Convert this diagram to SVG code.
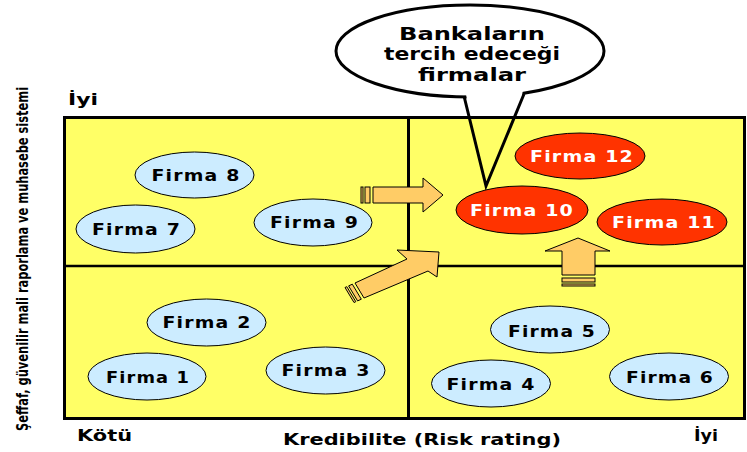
<svg xmlns="http://www.w3.org/2000/svg" width="747" height="452" viewBox="0 0 747 452">
<style>
.lbl{font-family:"DejaVu Sans","Liberation Sans",sans-serif;font-weight:bold;font-size:16px;letter-spacing:1px;text-anchor:middle}
.blue{fill:#CCECFF;stroke:#000;stroke-width:1}
.red{fill:#FF3300;stroke:#000;stroke-width:1}
.arr{fill:#FFCC66;stroke:#000;stroke-width:1;stroke-linejoin:miter}
.axis{font-family:"DejaVu Sans","Liberation Sans",sans-serif;font-weight:bold;font-size:15px}
.call{font-family:"DejaVu Sans","Liberation Sans",sans-serif;font-weight:bold;font-size:18px;text-anchor:middle}
</style>
<rect width="747" height="452" fill="#fff"/>
<g id="grid">
<rect x="64.5" y="117.5" width="680" height="301" fill="#FFFF66" stroke="#000" stroke-width="3"/>
<line x1="408.5" y1="117" x2="408.5" y2="419" stroke="#000" stroke-width="3"/>
<line x1="64" y1="266" x2="745" y2="266" stroke="#000" stroke-width="2.5"/>
</g>
<g id="firma8"><ellipse class="blue" cx="194.5" cy="175" rx="59.5" ry="23"/><text class="lbl" x="196" y="181" textLength="89" lengthAdjust="spacingAndGlyphs">Firma 8</text></g>
<g id="firma7"><ellipse class="blue" cx="135.5" cy="229" rx="59.5" ry="24"/><text class="lbl" x="136.5" y="235" textLength="89" lengthAdjust="spacingAndGlyphs">Firma 7</text></g>
<g id="firma9"><ellipse class="blue" cx="313" cy="222.5" rx="59" ry="23.5"/><text class="lbl" x="314.5" y="228" textLength="89" lengthAdjust="spacingAndGlyphs">Firma 9</text></g>
<g id="firma2"><ellipse class="blue" cx="206.5" cy="322.5" rx="59.5" ry="23.5"/><text class="lbl" x="207" y="328" textLength="89" lengthAdjust="spacingAndGlyphs">Firma 2</text></g>
<g id="firma1"><ellipse class="blue" cx="147" cy="376.5" rx="59" ry="23.5"/><text class="lbl" x="148" y="383" textLength="84" lengthAdjust="spacingAndGlyphs">Firma 1</text></g>
<g id="firma3"><ellipse class="blue" cx="325.5" cy="370.5" rx="59.5" ry="23.5"/><text class="lbl" x="326" y="376" textLength="89" lengthAdjust="spacingAndGlyphs">Firma 3</text></g>
<g id="firma5"><ellipse class="blue" cx="550" cy="329.5" rx="59.5" ry="23.5"/><text class="lbl" x="552" y="337" textLength="88" lengthAdjust="spacingAndGlyphs">Firma 5</text></g>
<g id="firma4"><ellipse class="blue" cx="491" cy="383.5" rx="59.5" ry="23.5"/><text class="lbl" x="491" y="390" textLength="89" lengthAdjust="spacingAndGlyphs">Firma 4</text></g>
<g id="firma6"><ellipse class="blue" cx="669" cy="376.5" rx="59.5" ry="23.5"/><text class="lbl" x="670" y="383" textLength="88" lengthAdjust="spacingAndGlyphs">Firma 6</text></g>
<g id="firma12"><ellipse class="red" cx="580" cy="156" rx="65" ry="23"/><text class="lbl" x="582" y="162" textLength="104" lengthAdjust="spacingAndGlyphs" fill="#fff">Firma 12</text></g>
<g id="firma10"><ellipse class="red" cx="522" cy="210" rx="66" ry="24"/><text class="lbl" x="522" y="216" textLength="104" lengthAdjust="spacingAndGlyphs" fill="#fff">Firma 10</text></g>
<g id="firma11"><ellipse class="red" cx="662" cy="222" rx="65" ry="23"/><text class="lbl" x="664" y="228" textLength="104" lengthAdjust="spacingAndGlyphs" fill="#fff">Firma 11</text></g>
<g id="connectors">
<g id="arrow-right">
<rect class="arr" x="361" y="187" width="2" height="16"/>
<rect class="arr" x="365" y="187" width="5" height="16"/>
<path class="arr" d="M373,187 H423 V178 L443,195 L423,212 V203 H373 Z"/>
</g>
<g id="arrow-diag">
<polygon class="arr" points="345,287.5 346.8,286.7 355.8,301.7 354,302.5"/>
<polygon class="arr" points="348.6,285.9 352.3,284.2 361.3,299.2 357.6,300.9"/>
<polygon class="arr" points="355,283 407,259 397,250 439,252 437,277 428,271 364,298"/>
</g>
<g id="arrow-up">
<rect class="arr" x="562" y="284" width="33" height="2"/>
<rect class="arr" x="562" y="278" width="33" height="4"/>
<path class="arr" d="M562,275 V251 H545 L578,238 L610,251 H595 V275 Z"/>
</g>
</g>
<g id="callout">
<ellipse cx="470" cy="51" rx="134" ry="46" fill="#fff" stroke="#000" stroke-width="3"/>
<polygon points="465,88 523,86 522,99 467,100" fill="#fff"/>
<polyline points="464,96 486,186 524,94" fill="none" stroke="#000" stroke-width="3" stroke-linejoin="miter"/>
<text class="call" x="472" y="40" textLength="146" lengthAdjust="spacingAndGlyphs">Bankaların</text>
<text class="call" x="472" y="60" textLength="176" lengthAdjust="spacingAndGlyphs">tercih edeceği</text>
<text class="call" x="472" y="81" textLength="108" lengthAdjust="spacingAndGlyphs">firmalar</text>
</g>
<g id="axes">
<text class="axis" x="68" y="105" textLength="30" lengthAdjust="spacingAndGlyphs">İyi</text>
<text class="axis" x="77" y="441" textLength="55" lengthAdjust="spacingAndGlyphs">Kötü</text>
<text class="axis" x="283" y="445" textLength="278" lengthAdjust="spacingAndGlyphs">Kredibilite (Risk rating)</text>
<text class="axis" x="694" y="441" textLength="24" lengthAdjust="spacingAndGlyphs">İyi</text>
<text class="axis" transform="translate(28,259) rotate(-90) scale(0.68,1)" text-anchor="middle" font-size="16" textLength="506" lengthAdjust="spacingAndGlyphs">Şeffaf, güvenilir mali raporlama ve muhasebe sistemi</text>
</g>
</svg>
